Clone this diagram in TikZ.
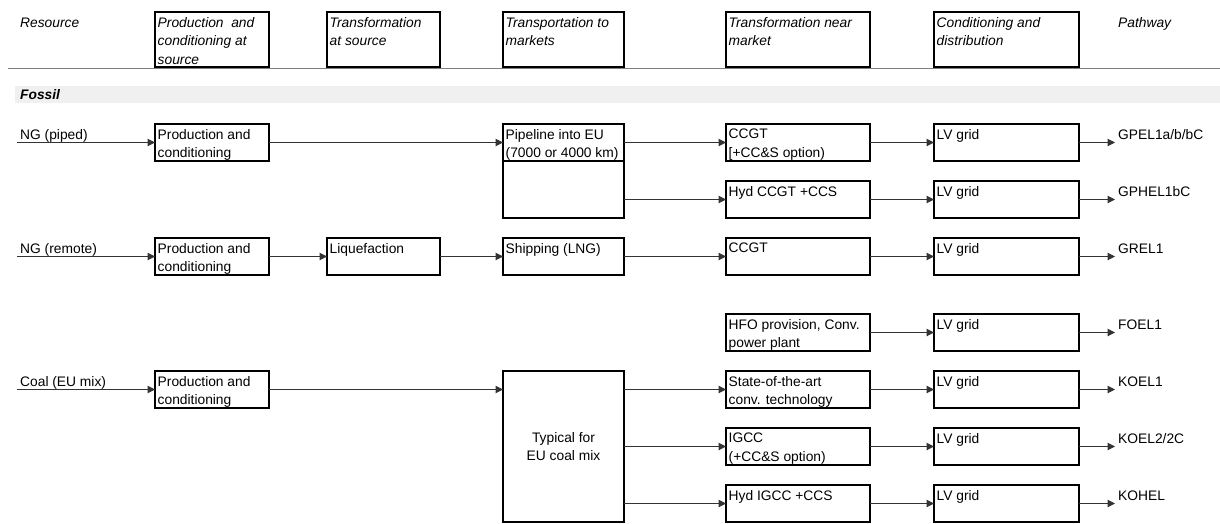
\documentclass[tikz,border=0pt]{standalone}
\usepackage{fontspec}
\setmainfont{Liberation Sans}
\usetikzlibrary{arrows.meta}
\newcommand\dfont{\fontsize{13.8}{18.5}\selectfont}
\tikzset{
  box/.style n args={2}{draw, line width=1.8pt, anchor=north west, inner sep=0pt, outer sep=0pt,
     minimum width=#1pt, minimum height=#2pt},
  lbl/.style={anchor=north west, inner xsep=2.5pt, inner ysep=5pt, align=left, font=\dfont},
  hlbl/.style={lbl, font=\dfont\itshape},
  txt/.style={anchor=base west, inner sep=0pt, font=\dfont},
  htxt/.style={txt, font=\dfont\itshape},
  arr/.style={line width=1pt, black!80, -{Triangle[length=7.5pt,width=7.5pt]}},
}
\begin{document}
\begin{tikzpicture}[x=1pt,y=-1pt]
\useasboundingbox (0,0) rectangle (1220,523);
% header
\node[htxt] (hres) at (20,27) {Resource};
\node[box={114}{55}, label={[hlbl]north west:{Production~ and\\conditioning at\\source}}] (h1) at (155,12) {};
\node[box={113}{55}, label={[hlbl]north west:{Transformation\\at source}}] (h2) at (327,12) {};
\node[box={121}{55}, label={[hlbl]north west:{Transportation to\\markets}}] (h3) at (503,12) {};
\node[box={144}{55}, label={[hlbl]north west:{Transformation near\\market}}] (h4) at (726,12) {};
\node[box={145}{55}, label={[hlbl]north west:{Conditioning and\\distribution}}] (h5) at (934,12) {};
\node[htxt] (hpw) at (1118,27) {Pathway};
\draw[line width=1pt, black!50] (8,68) -- (1220,68);
% fossil band
\fill[black!6] (15,86) rectangle (1220,103);
\node[txt, font=\dfont\bfseries\itshape] (fossil) at (20,99.5) {Fossil};

% row 1/2: NG piped
\coordinate (s1) at (17,142.5);
\node[txt] (rs1) at (20,139) {NG (piped)};
\node[box={114}{37}, label={[lbl]north west:{Production and\\conditioning}}] (p1) at (155,124) {};
\node[box={121}{37}, label={[lbl]north west:{Pipeline into EU\\(7000 or 4000 km)}}] (pipe) at (503,124) {};
\node[box={121}{57}] (pipelow) at (503,161) {};
\node[box={144}{37}, label={[lbl]north west:{CCGT\\{[}+CC\&S option)}}] (t1) at (726,124) {};
\node[box={145}{37}, label={[lbl]north west:{LV grid}}] (g1) at (934,124) {};
\coordinate (e1) at (1115,142.5);
\node[txt] (pw1) at (1118,139) {GPEL1a/b/bC};
\draw[arr] (s1) -- (p1.west);
\draw[arr] (p1.east) -- (pipe.west);
\draw[arr] (pipe.east) -- (t1.west);
\draw[arr] (t1.east) -- (g1.west);
\draw[arr] (g1.east) -- (e1);

\node[box={144}{37}, label={[lbl]north west:{Hyd CCGT +CCS}}] (t2) at (726,181) {};
\node[box={145}{37}, label={[lbl]north west:{LV grid}}] (g2) at (934,181) {};
\coordinate (e2) at (1115,199.5);
\node[txt] (pw2) at (1118,196) {GPHEL1bC};
\draw[arr] (pipelow.east |- t2.west) -- (t2.west);
\draw[arr] (t2.east) -- (g2.west);
\draw[arr] (g2.east) -- (e2);

% row 3: NG remote
\coordinate (s3) at (17,256.5);
\node[txt] (rs3) at (20,253) {NG (remote)};
\node[box={114}{37}, label={[lbl]north west:{Production and\\conditioning}}] (p3) at (155,238) {};
\node[box={113}{37}, label={[lbl]north west:{Liquefaction}}] (lq) at (327,238) {};
\node[box={121}{37}, label={[lbl]north west:{Shipping (LNG)}}] (ship) at (503,238) {};
\node[box={144}{37}, label={[lbl]north west:{CCGT}}] (t3) at (726,238) {};
\node[box={145}{37}, label={[lbl]north west:{LV grid}}] (g3) at (934,238) {};
\coordinate (e3) at (1115,256.5);
\node[txt] (pw3) at (1118,253) {GREL1};
\draw[arr] (s3) -- (p3.west);
\draw[arr] (p3.east) -- (lq.west);
\draw[arr] (lq.east) -- (ship.west);
\draw[arr] (ship.east) -- (t3.west);
\draw[arr] (t3.east) -- (g3.west);
\draw[arr] (g3.east) -- (e3);

% row 4: HFO
\node[box={144}{37}, label={[lbl]north west:{HFO provision, Conv.\\power plant}}] (t4) at (726,314) {};
\node[box={145}{37}, label={[lbl]north west:{LV grid}}] (g4) at (934,314) {};
\coordinate (e4) at (1115,332.5);
\node[txt] (pw4) at (1118,329) {FOEL1};
\draw[arr] (t4.east) -- (g4.west);
\draw[arr] (g4.east) -- (e4);

% coal
\coordinate (s5) at (17,389.5);
\node[txt] (rs5) at (20,386) {Coal (EU mix)};
\node[box={114}{37}, label={[lbl]north west:{Production and\\conditioning}}] (p5) at (155,371) {};
\node[box={121}{151}, align=center, font=\dfont] (typ) at (503,371) {Typical for\\EU coal mix};
\draw[arr] (s5) -- (p5.west);
\draw[arr] (p5.east) -- (p5.east -| typ.west);

\node[box={144}{37}, label={[lbl]north west:{State-of-the-art\\conv. technology}}] (t5) at (726,371) {};
\node[box={145}{37}, label={[lbl]north west:{LV grid}}] (g5) at (934,371) {};
\coordinate (e5) at (1115,389.5);
\node[txt] (pw5) at (1118,386) {KOEL1};
\draw[arr] (typ.east |- t5.west) -- (t5.west);
\draw[arr] (t5.east) -- (g5.west);
\draw[arr] (g5.east) -- (e5);

\node[box={144}{37}, label={[lbl]north west:{IGCC\\(+CC\&S option)}}] (t6) at (726,428) {};
\node[box={145}{37}, label={[lbl]north west:{LV grid}}] (g6) at (934,428) {};
\coordinate (e6) at (1115,446.5);
\node[txt] (pw6) at (1118,443) {KOEL2/2C};
\draw[arr] (typ.east |- t6.west) -- (t6.west);
\draw[arr] (t6.east) -- (g6.west);
\draw[arr] (g6.east) -- (e6);

\node[box={144}{37}, label={[lbl]north west:{Hyd IGCC +CCS}}] (t7) at (726,485) {};
\node[box={145}{37}, label={[lbl]north west:{LV grid}}] (g7) at (934,485) {};
\coordinate (e7) at (1115,503.5);
\node[txt] (pw7) at (1118,500) {KOHEL};
\draw[arr] (typ.east |- t7.west) -- (t7.west);
\draw[arr] (t7.east) -- (g7.west);
\draw[arr] (g7.east) -- (e7);
\end{tikzpicture}
\end{document}
